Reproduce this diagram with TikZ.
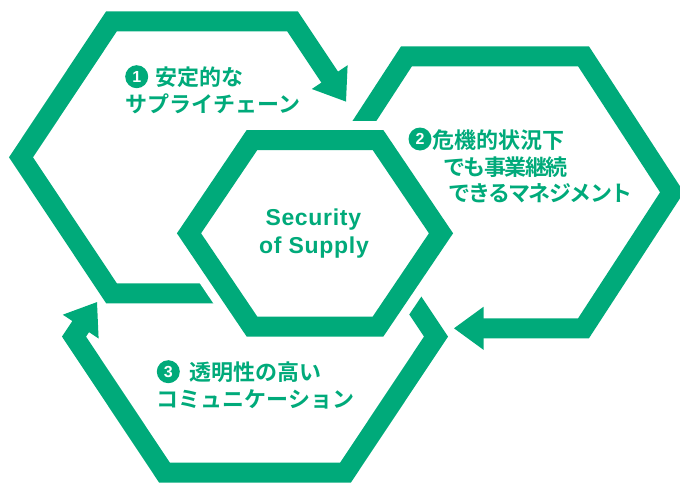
\documentclass[tikz,border=0pt]{standalone}
\usepackage{fontspec}
\setmainfont{Liberation Sans}
\newfontfamily\jpfont{Noto Sans CJK JP Bold}
\newfontfamily\jptight{Noto Sans CJK JP Bold}[LetterSpace=-7]
\newfontfamily\latfont{Liberation Sans}[LetterSpace=3]
\newfontfamily\numfont{Liberation Sans}
\definecolor{sosgreen}{RGB}{0,170,122}
\tikzset{
  strip/.style={draw=sosgreen, line width=20pt, line join=miter, line cap=butt},
  gapband/.style={draw=white, fill=white, line width=38pt, line join=miter},
  headtip/.style={fill=sosgreen, draw=none},
  jtext/.style={text=sosgreen, font=\jpfont\fontsize{22}{22}\selectfont, inner sep=0pt, anchor=west},
  jtextt/.style={text=sosgreen, font=\jptight\fontsize{22}{22}\selectfont, inner sep=0pt, anchor=west},
  ltext/.style={text=sosgreen, font=\latfont\bfseries\fontsize{23}{23}\selectfont, inner sep=0pt, anchor=base},
  numdot/.style={circle, fill=sosgreen, text=white, minimum size=23pt, inner sep=0pt, font=\numfont\bfseries\fontsize{16}{16}\selectfont}
}
\begin{document}
\begin{tikzpicture}[x=1pt,y=-1pt]
\useasboundingbox (0,0) rectangle (680,482);
\clip (0,0) rectangle (680,482);
% hexagon 1 (top left) with arrow
\draw[strip] (240,293.3) -- (111.5,293.3) -- (21,157.3) -- (111.5,21.3) -- (292.5,21.3) -- (330.3,78.0);
\fill[headtip] (347.6,65.2) -- (346.0,101.6) -- (311.8,89.0) -- cycle;
% hexagon 2 (right) with arrow
\draw[strip] (318,192.3) -- (406.5,56.3) -- (583.5,56.3) -- (672,192.3) -- (583.5,328.3) -- (482.5,328.3);
\fill[headtip] (483.5,306.8) -- (454,328.3) -- (483.5,349.8) -- cycle;
% hexagon 3 (bottom left) with arrow
\draw[strip] (385,260.0) -- (436,336.6) -- (345.5,472.6) -- (164.5,472.6) -- (74,336.6) -- (81.3,325.7);
\fill[headtip] (98.6,338.5) -- (97.0,302.1) -- (62.8,314.7) -- cycle;
% central hexagon
\draw[gapband] (441,233.3) -- (378,326.6) -- (252,326.6) -- (189,233.3) -- (252,140) -- (378,140) -- cycle;
\draw[strip] (441,233.3) -- (378,326.6) -- (252,326.6) -- (189,233.3) -- (252,140) -- (378,140) -- cycle;
% texts
\node[ltext] (sec1) at (313.3,225) {Security};
\node[ltext] (sec2) at (314,253.3) {of Supply};
\node[numdot] (n1) at (136.7,76.7) {1};
\node[jtext] (t1a) at (155.5,77.5) {安定的な};
\node[jtext] (t1b) at (125,104) {サプライチェーン};
\node[numdot] (n2) at (420,139) {2};
\node[jtext] (t2a) at (432,140) {危機的状況下};
\node[jtextt] (t2b) at (443,166.7) {でも事業継続};
\node[jtextt] (t2c) at (448,193.3) {できるマネジメント};
\node[numdot] (n3) at (168.3,371.7) {3};
\node[jtext] (t3a) at (189,372.5) {透明性の高い};
\node[jtext] (t3b) at (156.5,399) {コミュニケーション};
\end{tikzpicture}
\end{document}
